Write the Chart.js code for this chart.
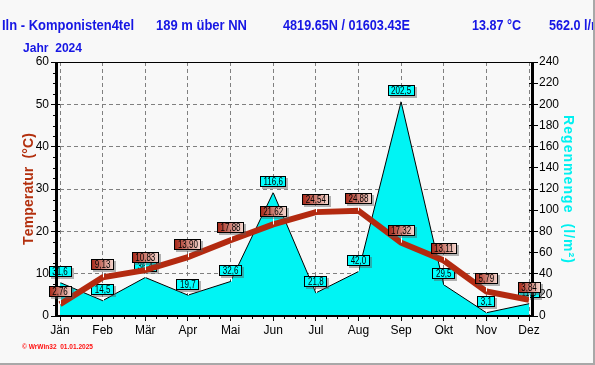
<!DOCTYPE html>
<html><head><meta charset="utf-8">
<script src="https://cdn.jsdelivr.net/npm/chart.js@4.4.1/dist/chart.umd.min.js"></script>
<style>html,body{margin:0;padding:0;background:#f8f8f8;}#wrap{width:595px;height:365px;}</style>
</head><body><div id="wrap"><canvas id="c" width="595" height="365"></canvas></div>
<script>
const months = ['Jän','Feb','Mär','Apr','Mai','Jun','Jul','Aug','Sep','Okt','Nov','Dez'];
const temperature = [2.76, 9.13, 10.83, 13.90, 17.88, 21.62, 24.54, 24.88, 17.32, 13.11, 5.79, 3.84];
const rain = [31.6, 14.5, 36.4, 19.7, 32.6, 116.6, 21.8, 42.0, 202.5, 29.5, 3.1, 11.6];
const tempTicks = [0, 10, 20, 30, 40, 50, 60];
const rainTicks = [0, 20, 40, 60, 80, 100, 120, 140, 160, 180, 200, 220, 240];
const headerTexts = ['Iln - Komponisten4tel', '189 m über NN', '4819.65N / 01603.43E', '13.87 °C', '562.0 l/m²'];
const yearText = 'Jahr  2024';
const leftTitle = 'Temperatur  (°C)';
const rightTitle = 'Regenmenge  (l/m²)';
const footerText = '© WrWin32  01.01.2025';

const FONT = "'Liberation Sans', Arial, sans-serif";
const TEMP_COLOR = '#b32a10';
const RAIN_COLOR = '#00f4f4';

function fitText(ctx, text, x, y, width, font, color) {
  ctx.save();
  ctx.font = font; ctx.fillStyle = color;
  ctx.textAlign = 'left'; ctx.textBaseline = 'alphabetic';
  const w = ctx.measureText(text).width;
  const s = width ? width / w : 1;
  ctx.translate(x, y); ctx.scale(s, 1);
  ctx.fillText(text, 0, 0);
  ctx.restore();
  return s;
}
function scaledText(ctx, text, x, y, s, font, color) {
  ctx.save();
  ctx.font = font; ctx.fillStyle = color;
  ctx.textAlign = 'left'; ctx.textBaseline = 'alphabetic';
  ctx.translate(x, y); ctx.scale(s, 1);
  ctx.fillText(text, 0, 0);
  ctx.restore();
}
// draw spaced text centered at origin along x (after transform)
function spacedText(ctx, text, length, font, color) {
  ctx.font = font; ctx.fillStyle = color;
  ctx.textAlign = 'left'; ctx.textBaseline = 'alphabetic';
  const chars = Array.from(text);
  const widths = chars.map(c => ctx.measureText(c).width);
  const total = widths.reduce((a, b) => a + b, 0);
  const sp = (length - total) / (chars.length - 1);
  let x = -length / 2;
  chars.forEach((c, i) => { ctx.fillText(c, x, 0); x += widths[i] + sp; });
}

function drawValueLabel(ctx, x, y, text, kind) {
  const font = '10px ' + FONT;
  const hs = 0.8;
  ctx.save();
  ctx.font = font;
  const tw = ctx.measureText(text).width * hs;
  const w = Math.round(tw + 7);
  const h = 11;
  const off = kind === 'rain' ? 11 : 12.5;
  const bx = Math.round(x - w / 2);
  const by = Math.round(y - off - h / 2);
  // pointer line
  ctx.strokeStyle = '#ffffff'; ctx.lineWidth = 1;
  ctx.beginPath(); ctx.moveTo(Math.round(x) + 0.5, by + h); ctx.lineTo(Math.round(x) + 0.5, y); ctx.stroke();
  // shadow
  ctx.fillStyle = 'rgba(90,90,90,0.45)';
  ctx.fillRect(bx + 2, by + 2, w, h);
  // body
  if (kind === 'rain') {
    ctx.fillStyle = '#00ffff';
  } else {
    const g = ctx.createLinearGradient(bx, 0, bx + w, 0);
    g.addColorStop(0, '#a52212');
    g.addColorStop(1, '#f6dcd4');
    ctx.fillStyle = g;
  }
  ctx.fillRect(bx, by, w, h);
  ctx.strokeStyle = '#000'; ctx.lineWidth = 1;
  ctx.strokeRect(bx + 0.5, by + 0.5, w - 1, h - 1);
  ctx.fillStyle = '#000';
  ctx.textBaseline = 'middle'; ctx.textAlign = 'left';
  ctx.translate(x - tw / 2, by + h / 2 + 0.5);
  ctx.scale(hs, 1);
  ctx.fillText(text, 0, 0);
  ctx.restore();
}
function fmt(v, d) { return v.toFixed(d).replace('.', ','); }

const decor = {
  id: 'decor',
  beforeDraw(chart) {
    const ctx = chart.ctx;
    ctx.save();
    ctx.fillStyle = '#f8f8f8';
    ctx.fillRect(0, 0, chart.width, chart.height);
    ctx.restore();
  },
  afterDatasetDraw(chart, args) {
    if (args.index !== 1) return;
    const ctx = chart.ctx;
    const meta = chart.getDatasetMeta(1);
    meta.data.forEach((p, i) => drawValueLabel(ctx, p.x, p.y, fmt(rain[i], 1), 'rain'));
  },
  afterDatasetsDraw(chart) {
    const ctx = chart.ctx;
    const xs = chart.scales.x, ys = chart.scales.y;
    const a = chart.chartArea;
    ctx.save();
    ctx.fillStyle = '#000';
    // frame
    ctx.fillRect(55, a.top, a.right + 5 - 55, 1);
    ctx.fillRect(55, a.bottom - 1, a.right + 5 - 55, 2);
    ctx.fillRect(55, a.top, 3, a.bottom - a.top + 1);
    ctx.fillRect(a.right + 2, a.top, 3, a.bottom - a.top + 1);
    // minor ticks left
    for (let k = 0; k < tempTicks.length - 1; k++) {
      for (let f = 1; f < 4; f++) {
        const v = tempTicks[k] + (tempTicks[k + 1] - tempTicks[k]) * f / 4;
        const py = Math.round(ys.getPixelForValue(v));
        ctx.fillRect(53, py, 2, 1);
      }
    }
    // minor ticks x
    for (let i = 0; i < months.length - 1; i++) {
      const p0 = xs.getPixelForValue(i), p1 = xs.getPixelForValue(i + 1);
      for (let f = 1; f < 4; f++) {
        const px = Math.round(p0 + (p1 - p0) * f / 4);
        ctx.fillRect(px, a.bottom + 1, 1, 2);
      }
    }
    ctx.restore();
    const meta = chart.getDatasetMeta(0);
    meta.data.forEach((p, i) => drawValueLabel(ctx, p.x, p.y, fmt(temperature[i], 2), 'temp'));
  },
  afterDraw(chart) {
    const ctx = chart.ctx;
    const blue = '#1616e4';
    const hf = 'bold 14px ' + FONT;
    fitText(ctx, headerTexts[0], 2, 30, 132, hf, blue);
    fitText(ctx, headerTexts[1], 156, 30, 91, hf, blue);
    fitText(ctx, headerTexts[2], 283, 30, 127, hf, blue);
    fitText(ctx, headerTexts[3], 472, 30, 49, hf, blue);
    scaledText(ctx, headerTexts[4], 549, 30, 0.9, hf, blue);
    fitText(ctx, yearText, 23, 52, 59, 'bold 12px ' + FONT, blue);
    fitText(ctx, footerText, 22, 349, 71, 'bold 8px ' + FONT, '#ff1010');
    // left axis title
    ctx.save();
    ctx.translate(32.5, 189);
    ctx.rotate(-Math.PI / 2);
    spacedText(ctx, leftTitle, 112, 'bold 14px ' + FONT, '#b3300e');
    ctx.restore();
    // right axis title
    ctx.save();
    ctx.translate(563.5, 189);
    ctx.rotate(Math.PI / 2);
    spacedText(ctx, rightTitle, 148, 'bold 14px ' + FONT, '#00f0f0');
    ctx.restore();
    // window border
    ctx.save();
    ctx.fillStyle = '#a8a8a8';
    ctx.fillRect(0, 363, 595, 2);
    ctx.fillRect(593, 0, 2, 365);
    ctx.restore();
  }
};

const gridCommon = { color: '#808080', lineWidth: 1, tickColor: '#000', tickWidth: 1, tickBorderDash: [] };

new Chart(document.getElementById('c'), {
  type: 'line',
  data: {
    labels: months,
    datasets: [
      { label: 'Temperatur', data: temperature, yAxisID: 'y', borderColor: TEMP_COLOR, borderWidth: 6,
        pointRadius: 0, tension: 0, fill: false, borderCapStyle: 'butt', borderJoinStyle: 'miter' },
      { label: 'Regenmenge', data: rain, yAxisID: 'y2', borderColor: '#000', borderWidth: 1,
        backgroundColor: RAIN_COLOR, fill: 'origin', pointRadius: 0, tension: 0 }
    ]
  },
  options: {
    responsive: false, animation: false, devicePixelRatio: 1,
    layout: { padding: { top: 62, left: 0, right: 0, bottom: 0 } },
    plugins: { legend: { display: false }, tooltip: { enabled: false } },
    scales: {
      x: {
        type: 'category', offset: false,
        grid: Object.assign({}, gridCommon, { tickLength: 5 }),
        border: { display: false, dash: [4, 3] },
        ticks: { color: '#000', font: { family: FONT, size: 12 }, padding: 2, maxRotation: 0, autoSkip: false },
        afterFit(s) { s.height = 49; }
      },
      y: {
        position: 'left', min: 0, max: 60,
        grid: Object.assign({}, gridCommon, { tickLength: 9 }),
        border: { display: false, dash: [4, 3] },
        ticks: { color: '#000', font: { family: FONT, size: 12 }, padding: 2 },
        afterBuildTicks(s) { s.ticks = tempTicks.map(v => ({ value: v })); },
        afterFit(s) { s.width = 60; }
      },
      y2: {
        position: 'right', min: 0, max: 240,
        grid: Object.assign({}, gridCommon, { tickLength: 9, drawOnChartArea: false }),
        border: { display: false },
        ticks: { color: '#000', font: { family: FONT, size: 12 }, padding: 1 },
        afterBuildTicks(s) { s.ticks = rainTicks.map(v => ({ value: v })); },
        afterFit(s) { s.width = 66; }
      }
    }
  },
  plugins: [decor]
});
</script>
</body></html>
